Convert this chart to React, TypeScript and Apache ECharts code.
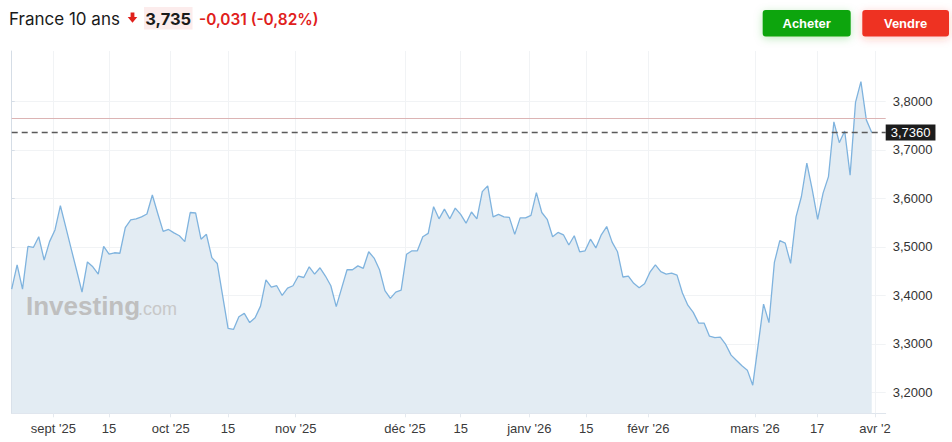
import React, { useEffect, useRef } from "react";
import * as echarts from "echarts";

// France 10Y yield, one value per trading session
const yieldValues: number[] = [
  3.413, 3.463, 3.413, 3.501, 3.499, 3.521, 3.473, 3.511, 3.535, 3.585,
  3.541, 3.496, 3.452, 3.407, 3.469, 3.459, 3.444, 3.501, 3.485, 3.488,
  3.487, 3.540, 3.556, 3.558, 3.562, 3.568, 3.607, 3.569, 3.532, 3.536,
  3.529, 3.523, 3.511, 3.571, 3.570, 3.516, 3.526, 3.478, 3.466, 3.399,
  3.332, 3.330, 3.356, 3.363, 3.344, 3.354, 3.378, 3.432, 3.417, 3.420,
  3.400, 3.415, 3.420, 3.440, 3.437, 3.459, 3.444, 3.457, 3.440, 3.420,
  3.377, 3.415, 3.453, 3.453, 3.461, 3.456, 3.490, 3.477, 3.453, 3.410,
  3.394, 3.407, 3.411, 3.485, 3.492, 3.492, 3.521, 3.528, 3.583, 3.558,
  3.578, 3.558, 3.580, 3.567, 3.549, 3.572, 3.558, 3.614, 3.626, 3.562,
  3.567, 3.562, 3.561, 3.526, 3.560, 3.560, 3.565, 3.612, 3.571, 3.557,
  3.521, 3.530, 3.525, 3.504, 3.523, 3.490, 3.492, 3.516, 3.498, 3.525,
  3.542, 3.510, 3.490, 3.438, 3.440, 3.425, 3.416, 3.424, 3.448, 3.463,
  3.449, 3.444, 3.446, 3.442, 3.405, 3.380, 3.365, 3.343, 3.343, 3.316,
  3.313, 3.314, 3.299, 3.277, 3.266, 3.255, 3.246, 3.215, 3.298, 3.382,
  3.344, 3.468, 3.513, 3.508, 3.466, 3.562, 3.604, 3.673, 3.618, 3.557,
  3.611, 3.645, 3.758, 3.715, 3.739, 3.648, 3.798, 3.841, 3.762, 3.736,
];

// x-axis ticks (session index positions) and their labels
const xTickPos: number[] = [7.7, 18, 29.4, 40, 52.5, 72.7, 83, 95.7, 106.2, 117.7, 137.4, 148.9, 159.6];
const xTickText: string[] = [
  "sept '25", "15", "oct '25", "15", "nov '25", "déc '25", "15",
  "janv '26", "15", "févr '26", "mars '26", "17", "avr '2",
];

// y-axis ticks
const yTicks: number[] = [3.2, 3.3, 3.4, 3.5, 3.6, 3.7, 3.8];

const prevClose = 3.766;
const lastPrice = 3.736;

const headerName = "France 10 ans";
const headerPrice = "3,735";
const headerChange = "-0,031 (-0,82%)";
const buyText = "Acheter";
const sellText = "Vendre";

const AX_FONT = "'Liberation Sans', Arial, sans-serif";
const HEAD_FONT = "Inter, 'Noto Sans', sans-serif";

const fmt4 = (v: number) => v.toFixed(4).replace(".", ",");

export default function App() {
  const ref = useRef<HTMLDivElement>(null);

  useEffect(() => {
    if (!ref.current) return;
    const chart = echarts.init(ref.current, null, { renderer: "svg" });
    const data = yieldValues.map((v, i) => [i, v]);

    chart.setOption({
      animation: false,
      backgroundColor: "#ffffff",
      grid: {
        left: 11.7,
        right: 66.3,
        top: 51,
        bottom: 28.7,
        containLabel: false,
        outerBoundsMode: "none",
      },
      xAxis: {
        type: "value",
        min: 0,
        max: 161.58,
        axisLine: { show: true, lineStyle: { color: "#dfe5ec", width: 1 } },
        axisTick: {
          show: true,
          length: 4,
          customValues: xTickPos,
          lineStyle: { color: "#e4e9ef" },
        },
        axisLabel: {
          customValues: xTickPos,
          color: "#3a3a3a",
          fontSize: 13,
          fontFamily: AX_FONT,
          margin: 9,
          formatter: (value: number) => {
            const i = xTickPos.findIndex((p) => Math.abs(p - value) < 1e-6);
            return i >= 0 ? xTickText[i] : "";
          },
        },
        splitLine: { show: true, lineStyle: { color: "#f1f3f5", width: 1 } },
      },
      yAxis: {
        type: "value",
        position: "right",
        min: 3.157,
        max: 3.904,
        axisLine: { show: true, lineStyle: { color: "#d5dde6", width: 1 } },
        axisTick: {
          show: true,
          length: 3,
          customValues: yTicks,
          lineStyle: { color: "#d5dde6" },
        },
        axisLabel: {
          customValues: yTicks,
          color: "#333333",
          fontSize: 13,
          fontFamily: AX_FONT,
          margin: 7,
          formatter: (v: number) => fmt4(v),
        },
        splitLine: { show: true, lineStyle: { color: "#f1f3f5", width: 1 } },
      },
      series: [
        {
          type: "line",
          data,
          symbol: "none",
          showSymbol: false,
          lineStyle: { color: "#7fb3de", width: 1.3 },
          areaStyle: { color: "#e3ecf3", opacity: 1 },
          markLine: {
            silent: true,
            symbol: "none",
            precision: 4,
            animation: false,
            data: [
              {
                yAxis: prevClose,
                lineStyle: { color: "#dcb4b4", width: 1, type: "solid" },
                label: { show: false },
              },
              {
                yAxis: lastPrice,
                lineStyle: { color: "#5a5a5a", width: 1.3, type: [6, 4] },
                label: {
                  show: true,
                  position: "end",
                  distance: 0,
                  formatter: () => fmt4(lastPrice),
                  backgroundColor: "#1c1c1c",
                  color: "#ffffff",
                  fontSize: 13,
                  fontFamily: AX_FONT,
                  padding: [2, 5, 1, 5],
                },
              },
            ],
          },
        },
      ],
      graphic: [
        // header
        {
          type: "text",
          x: 9,
          y: 19,
          style: {
            text: headerName,
            fill: "#1a1a1a",
            font: `400 17px ${HEAD_FONT}`,
            align: "left",
            verticalAlign: "middle",
          },
        },
        {
          type: "polygon",
          shape: {
            points: [
              [130.6, 12.5], [134.4, 12.5], [134.4, 17], [137.3, 17],
              [132.5, 22.8], [127.7, 17], [130.6, 17],
            ],
          },
          style: { fill: "#e0201b" },
        },
        {
          type: "rect",
          shape: { x: 144, y: 7, width: 48.5, height: 22.5 },
          style: { fill: "#fcecec" },
        },
        {
          type: "text",
          x: 168.2,
          y: 19,
          style: {
            text: headerPrice,
            fill: "#1a1a1a",
            font: `700 16.5px ${HEAD_FONT}`,
            align: "center",
            verticalAlign: "middle",
          },
        },
        {
          type: "text",
          x: 199,
          y: 19,
          style: {
            text: headerChange,
            fill: "#e0201b",
            font: `600 15.4px ${HEAD_FONT}`,
            align: "left",
            verticalAlign: "middle",
          },
        },
        // buttons
        {
          type: "rect",
          shape: { x: 762.7, y: 10, width: 88, height: 26.5, r: 3 },
          style: {
            fill: "#10a50c",
            shadowBlur: 8,
            shadowOffsetY: 2,
            shadowColor: "rgba(16,165,12,0.25)",
          },
        },
        {
          type: "text",
          x: 806.7,
          y: 23.3,
          style: {
            text: buyText,
            fill: "#ffffff",
            font: `700 13px ${AX_FONT}`,
            align: "center",
            verticalAlign: "middle",
          },
        },
        {
          type: "rect",
          shape: { x: 862.3, y: 10, width: 86.7, height: 26.5, r: 3 },
          style: {
            fill: "#ee3224",
            shadowBlur: 8,
            shadowOffsetY: 2,
            shadowColor: "rgba(238,50,36,0.25)",
          },
        },
        {
          type: "text",
          x: 905.6,
          y: 23.3,
          style: {
            text: sellText,
            fill: "#ffffff",
            font: `700 13px ${AX_FONT}`,
            align: "center",
            verticalAlign: "middle",
          },
        },
        // watermark
        {
          type: "text",
          x: 26,
          y: 306,
          z: 5,
          style: {
            text: "Investing",
            fill: "#bfbfbf",
            font: `700 26px ${AX_FONT}`,
            align: "left",
            verticalAlign: "middle",
          },
        },
        {
          type: "text",
          x: 138,
          y: 309,
          z: 5,
          style: {
            text: ".com",
            fill: "#c8c8c8",
            font: `400 18px ${AX_FONT}`,
            align: "left",
            verticalAlign: "middle",
          },
        },
      ],
    });

    return () => chart.dispose();
  }, []);

  return (
    <div
      ref={ref}
      style={{ position: "absolute", left: 0, top: 0, width: 952, height: 442, background: "#ffffff" }}
    />
  );
}
